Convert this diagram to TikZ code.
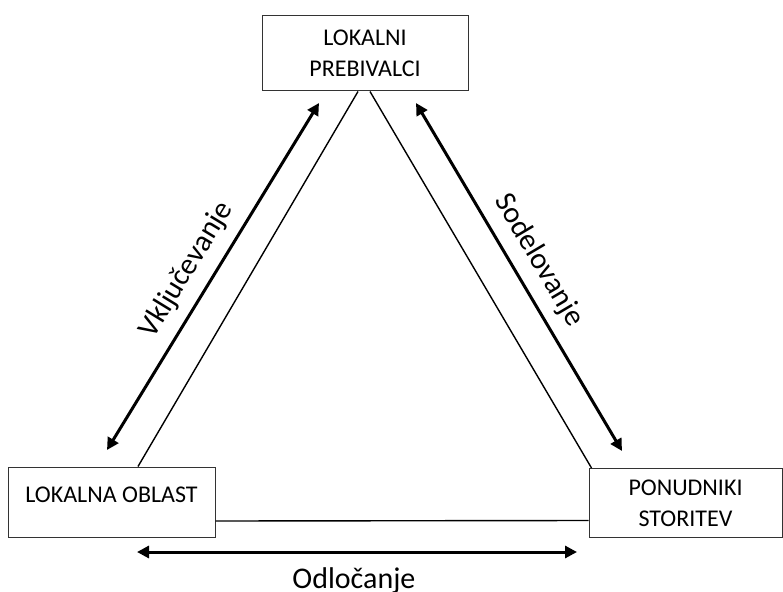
\documentclass[tikz,border=0pt]{standalone}
\usepackage{fontspec}
\setmainfont{Carlito}
\usetikzlibrary{arrows.meta,calc}
\begin{document}
\begin{tikzpicture}[x = 1pt, y = -1pt,
	box/.style = {draw = black!80, line width = 1pt, align = center, inner sep = 0pt, font = \fontsize{24}{31}\selectfont},
	link/.style = {line width = 1.4pt},
	flow/.style = {line width = 3pt, {Triangle[length = 12pt, width = 12pt]}-{Triangle[length = 12pt, width = 12pt]}},
	lbl/.style = {font = \fontsize{30}{36}\selectfont}]
	\useasboundingbox (0, 0) rectangle (783, 591);
	% Nodes
	\node[box, minimum width = 206pt, minimum height = 75pt] (pre) at (365, 53.5) {LOKALNI\\PREBIVALCI};
	\node[box, minimum width = 207pt, minimum height = 70pt, text height = 15pt, text depth = 14pt] (obl) at (111.5, 502) {LOKALNA OBLAST};
	\node[box, minimum width = 193pt, minimum height = 69pt] (pon) at (685.5, 503) {PONUDNIKI\\STORITEV};
	
	% Ends of the arrows
	\coordinate (vklA) at (107, 450);
	\coordinate (vklB) at (319, 103);
	\coordinate (sodA) at (416, 103);
	\coordinate (sodB) at (622, 451);
	\coordinate (odlA) at (137, 552);
	\coordinate (odlB) at (577, 552);
	
	% Triangle
	\draw[link] ($(pre.south) + (-7, 0)$) -- ($(obl.north) + (26.5, 0)$);
	\draw[link] ($(pre.south) + (5, 0)$) -- ($(pon.north west) + (3, 0)$);
	\draw[link] ($(obl.east) + (0, 19)$) -- ($(pon.west) + (0, 17.5)$);
	
	% Arrows
	\draw[flow] (vklA) -- node[lbl, pos = 0.48, sloped, above = 8pt] (vkl) {Vključevanje} (vklB);
	\draw[flow] (sodA) -- node[lbl, pos = 0.49, sloped, above = 8pt] (sod) {Sodelovanje} (sodB);
	\draw[flow] (odlA) -- node[lbl, pos = 0.493, below = 11pt] (odl) {Odločanje} (odlB);
\end{tikzpicture}
\end{document}
